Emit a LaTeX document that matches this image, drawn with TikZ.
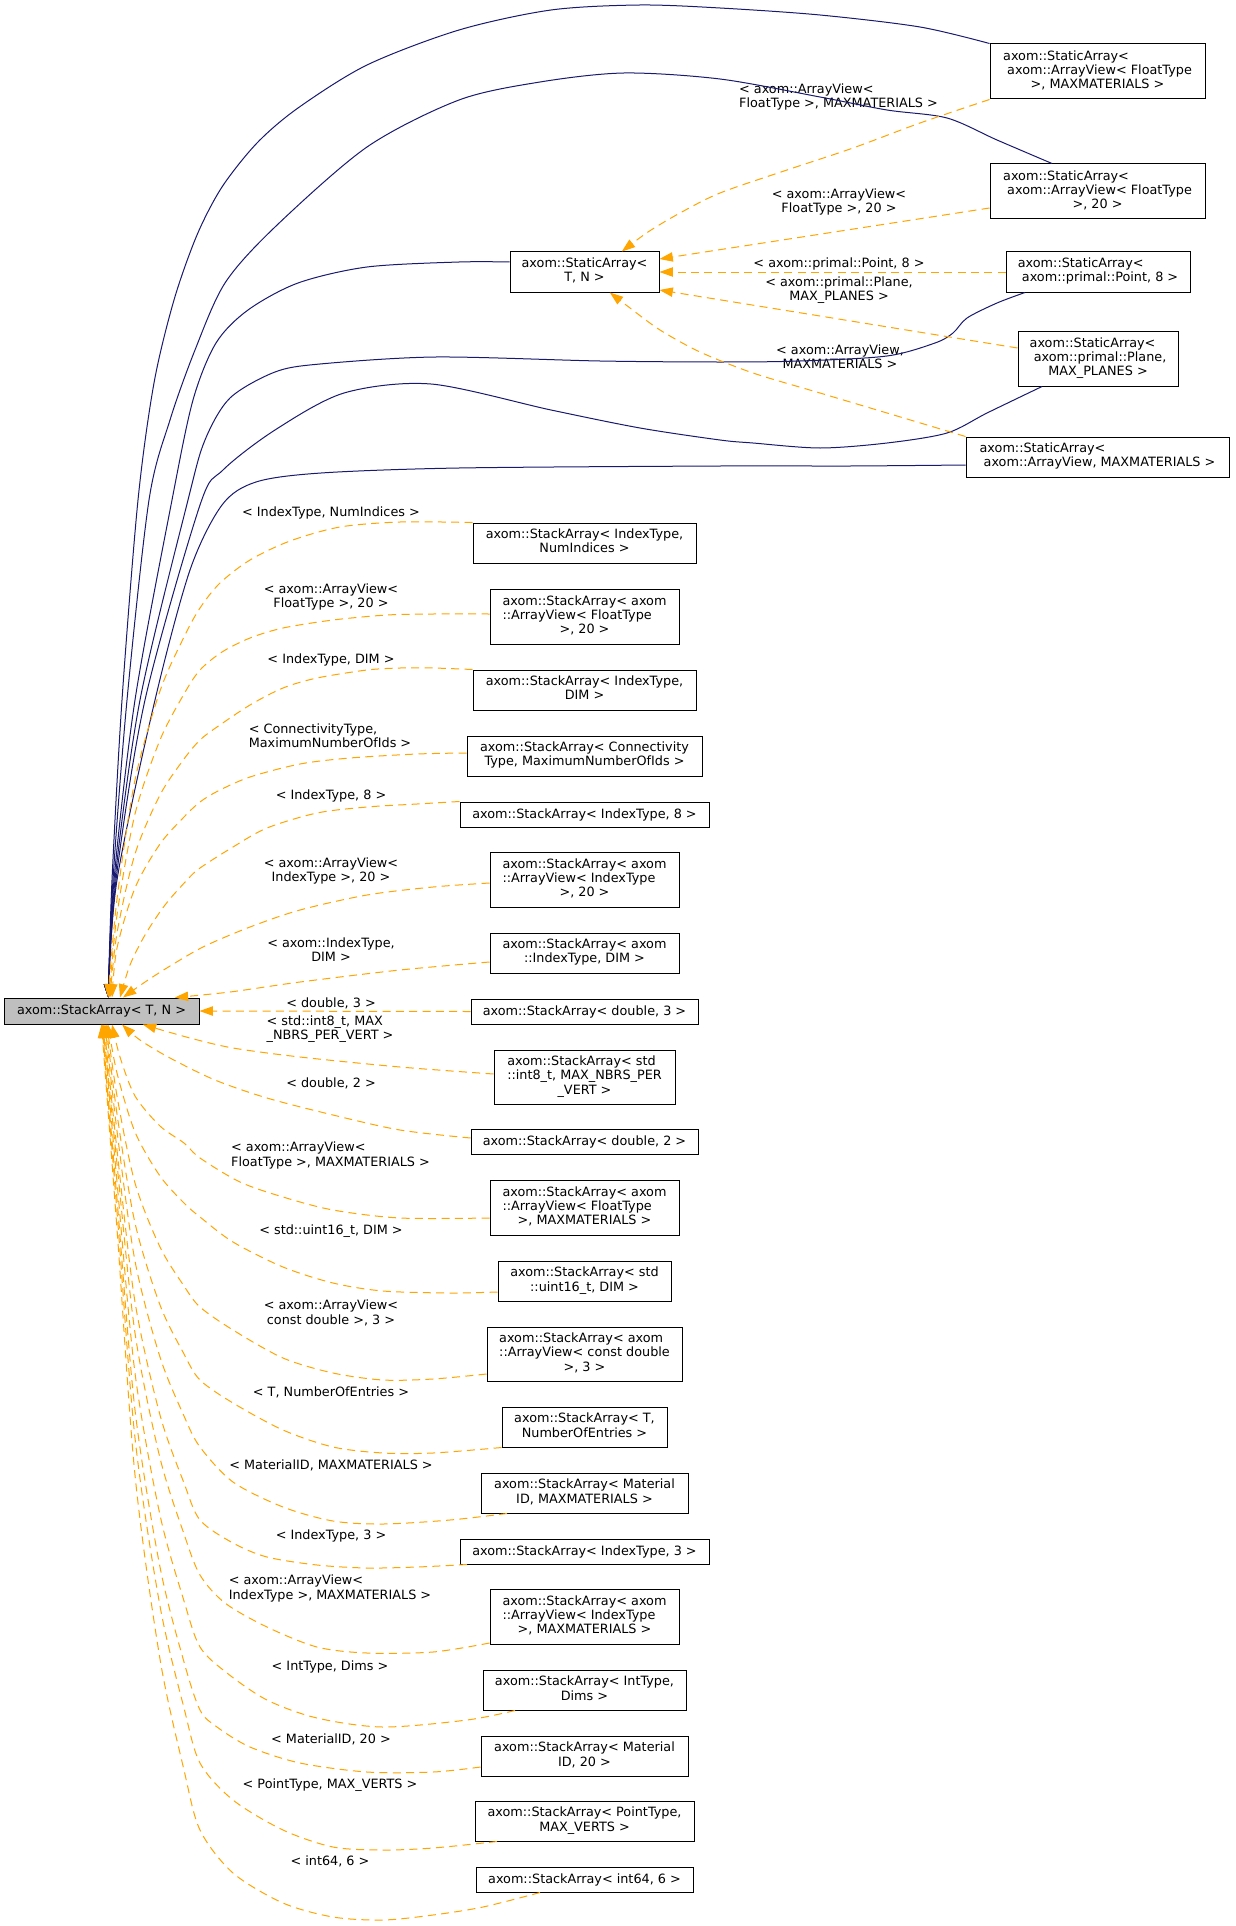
\documentclass[tikz,border=0pt]{standalone}
\usepackage{fontspec}
\setmainfont{DejaVu Sans}
\usetikzlibrary{arrows.meta}
\definecolor{navyc}{HTML}{191970}
\definecolor{orangec}{HTML}{FFA500}
\definecolor{mainfill}{HTML}{BFBFBF}
\newcommand\LL[1]{\begin{tabular}{@{}l@{}}#1\end{tabular}}
\newcommand\CL[1]{\multicolumn{1}{@{}c@{}}{#1}}
\begin{document}
\begin{tikzpicture}[x=0.75pt,y=-0.75pt,
  every node/.style={font=\fontsize{9.6}{10.7}\selectfont, inner sep=0pt},
  cls/.style={draw=black, line width=0.75pt, fill=white, inner sep=0pt},
  wh/.style 2 args={minimum width=#1pt, minimum height=#2pt},
  mainc/.style={cls, fill=mainfill},
  lab/.style={inner sep=0pt, text=black},
  tipx/.style={-{Triangle[length=10pt,width=7pt]}},
  nav/.style={draw=navyc, line width=0.75pt, tipx},
  oed/.style={draw=orangec, line width=0.75pt, dash pattern=on 6pt off 4pt, tipx},
]
\fill[white] (0,0) rectangle (1235,1926);
\useasboundingbox (0,0) rectangle (1235,1926);

% ---- nodes ----
\node[mainc, wh={146.25}{19.5}] (m) at (101.5,1011) {axom::StackArray< T, N >};
\node[cls, wh={111.75}{30}] (stn) at (584.5,272) {\LL{axom::StaticArray<\\\CL{T, N >}}};
\node[cls, wh={161.25}{41.25}] (sa1) at (1097.5,71.5) {\LL{axom::StaticArray<\\\ axom::ArrayView< FloatType\\\CL{>, MAXMATERIALS >}}};
\node[cls, wh={161.25}{41.25}] (sa2) at (1097.5,191.5) {\LL{axom::StaticArray<\\\ axom::ArrayView< FloatType\\\CL{>, 20 >}}};
\node[cls, wh={138}{30}] (sa3) at (1098,272) {\LL{axom::StaticArray<\\\CL{\ axom::primal::Point, 8 >}}};
\node[cls, wh={120}{41.25}] (sa4) at (1098,358.5) {\LL{axom::StaticArray<\\\ axom::primal::Plane,\\\CL{MAX\_PLANES >}}};
\node[cls, wh={197.25}{30}] (sa5) at (1097.5,457) {\LL{axom::StaticArray<\\\CL{\ axom::ArrayView, MAXMATERIALS >}}};

\node[cls, wh={167.25}{30}] (k1) at (584.5,543) {\LL{axom::StackArray< IndexType,\\\CL{NumIndices >}}};
\node[cls, wh={141.75}{41.25}] (k2) at (584.5,616.5) {\LL{axom::StackArray< axom\\::ArrayView< FloatType\\\CL{>, 20 >}}};
\node[cls, wh={167.25}{30}] (k3) at (584.5,690) {\LL{axom::StackArray< IndexType,\\\CL{DIM >}}};
\node[cls, wh={176.25}{30}] (k4) at (584.5,756) {\LL{axom::StackArray< Connectivity\\\CL{Type, MaximumNumberOfIds >}}};
\node[cls, wh={186.75}{18.75}] (k5) at (584.5,814.5) {axom::StackArray< IndexType, 8 >};
\node[cls, wh={141.75}{41.25}] (k6) at (584.5,879.5) {\LL{axom::StackArray< axom\\::ArrayView< IndexType\\\CL{>, 20 >}}};
\node[cls, wh={141.75}{30}] (k7) at (584.5,953) {\LL{axom::StackArray< axom\\\CL{::IndexType, DIM >}}};
\node[cls, wh={170.25}{18.75}] (k8) at (584.5,1011.5) {axom::StackArray< double, 3 >};
\node[cls, wh={135.75}{40.5}] (k9) at (584.5,1077) {\LL{axom::StackArray< std\\::int8\_t, MAX\_NBRS\_PER\\\CL{\_VERT >}}};
\node[cls, wh={170.25}{18.75}] (k10) at (584.5,1142) {axom::StackArray< double, 2 >};
\node[cls, wh={141.75}{41.25}] (k11) at (584.5,1207.5) {\LL{axom::StackArray< axom\\::ArrayView< FloatType\\\CL{>, MAXMATERIALS >}}};
\node[cls, wh={129.75}{30}] (k12) at (584.5,1281) {\LL{axom::StackArray< std\\\CL{::uint16\_t, DIM >}}};
\node[cls, wh={146.25}{40.5}] (k13) at (584.5,1354) {\LL{axom::StackArray< axom\\::ArrayView< const double\\\CL{>, 3 >}}};
\node[cls, wh={123.75}{30}] (k14) at (584.5,1427) {\LL{axom::StackArray< T,\\\CL{NumberOfEntries >}}};
\node[cls, wh={155.25}{30}] (k15) at (584.5,1493) {\LL{axom::StackArray< Material\\\CL{ID, MAXMATERIALS >}}};
\node[cls, wh={186.75}{18.75}] (k16) at (584.5,1551.5) {axom::StackArray< IndexType, 3 >};
\node[cls, wh={141.75}{41.25}] (k17) at (584.5,1616.5) {\LL{axom::StackArray< axom\\::ArrayView< IndexType\\\CL{>, MAXMATERIALS >}}};
\node[cls, wh={152.25}{30}] (k18) at (584.5,1690) {\LL{axom::StackArray< IntType,\\\CL{Dims >}}};
\node[cls, wh={155.25}{30}] (k19) at (584.5,1756) {\LL{axom::StackArray< Material\\\CL{ID, 20 >}}};
\node[cls, wh={164.25}{30}] (k20) at (584.5,1821) {\LL{axom::StackArray< PointType,\\\CL{MAX\_VERTS >}}};
\node[cls, wh={162.75}{18.75}] (k21) at (584.5,1879.5) {axom::StackArray< int64, 6 >};

% ---- labels ----
\node[lab] (la1) at (838.5,97.5) {\LL{< axom::ArrayView<\\\CL{FloatType >, MAXMATERIALS >}}};
\node[lab] (la2) at (839,202.5) {\LL{< axom::ArrayView<\\\CL{FloatType >, 20 >}}};
\node[lab] (la3) at (839,264) {< axom::primal::Point, 8 >};
\node[lab] (la4) at (839,290.5) {\LL{< axom::primal::Plane,\\\CL{MAX\_PLANES >}}};
\node[lab] (la5) at (840,358.5) {\LL{< axom::ArrayView,\\\CL{MAXMATERIALS >}}};

\node[lab] (l1) at (331,513) {< IndexType, NumIndices >};
\node[lab] (l2) at (331,598) {\LL{< axom::ArrayView<\\\CL{FloatType >, 20 >}}};
\node[lab] (l3) at (331,660) {< IndexType, DIM >};
\node[lab] (l4) at (330,738) {\LL{< ConnectivityType,\\\CL{MaximumNumberOfIds >}}};
\node[lab] (l5) at (331,796) {< IndexType, 8 >};
\node[lab] (l6) at (331,872) {\LL{< axom::ArrayView<\\\CL{IndexType >, 20 >}}};
\node[lab] (l7) at (331,952) {\LL{< axom::IndexType,\\\CL{DIM >}}};
\node[lab] (l8) at (331,1003) {< double, 3 >};
\node[lab] (l9) at (330,1030) {\LL{< std::int8\_t, MAX\\\CL{\_NBRS\_PER\_VERT >}}};
\node[lab] (l10) at (331,1083) {< double, 2 >};
\node[lab] (l11) at (330.5,1156) {\LL{< axom::ArrayView<\\\CL{FloatType >, MAXMATERIALS >}}};
\node[lab] (l12) at (331,1231) {< std::uint16\_t, DIM >};
\node[lab] (l13) at (331,1314) {\LL{< axom::ArrayView<\\\CL{const double >, 3 >}}};
\node[lab] (l14) at (331,1392) {< T, NumberOfEntries >};
\node[lab] (l15) at (331,1465) {< MaterialID, MAXMATERIALS >};
\node[lab] (l16) at (331,1536) {< IndexType, 3 >};
\node[lab] (l17) at (330,1589) {\LL{< axom::ArrayView<\\\CL{IndexType >, MAXMATERIALS >}}};
\node[lab] (l18) at (330,1667) {< IntType, Dims >};
\node[lab] (l19) at (331,1739) {< MaterialID, 20 >};
\node[lab] (l20) at (330,1785) {< PointType, MAX\_VERTS >};
\node[lab] (l21) at (330,1861) {< int64, 6 >};

% ---- navy inheritance edges ----
\draw[nav] plot[smooth] coordinates {(sa1.north west) (920,27) (820,15) (720,8) (640,5) (551,10) (459,30) (367,65) (298,108) (257,143) (222,187) (197,235) (174,300) (154,383) (138,500) (122,700) (112,880) ([xshift=5pt]m.north)};
\draw[nav] plot[smooth] coordinates {(sa2.north -| 1052,0) (997,140) (947,118) (887,110) (820,97) (720,79) (624,73) (540,82) (459,100) (367,147) (275,227) (225,283) (195,350) (170,420) (149,500) (127,700) (113,880) ([xshift=5pt]m.north)};
\draw[nav] plot[smooth] coordinates {([yshift=7.5pt]stn.west) (459,262) (367,267) (298,283) (248,310) (216,343) (193,400) (172,500) (135,700) (114,880) ([xshift=5pt]m.north)};
\draw[nav] plot[smooth] coordinates {(sa3.south -| 1025,0) (997,303) (967,318) (953,333) (935,343) (887,356) (800,361) (720,362) (600,361) (436,357) (320,364) (275,372) (230,398) (205,440) (188,500) (140,700) (115,880) ([xshift=5pt]m.north)};
\draw[nav] plot[smooth] coordinates {(sa4.south -| 1042,0) (987,413) (947,433) (887,443) (820,448) (753,443) (720,440) (640,428) (551,410) (431,384) (344,393) (275,430) (223,470) (200,505) (145,700) (116,880) ([xshift=5pt]m.north)};
\draw[nav] plot[smooth] coordinates {(sa5.west |- 0,465) (850,466) (720,466) (459,468) (321,473) (256,482) (222,505) (190,570) (155,700) (117,880) ([xshift=5pt]m.north)};

% ---- orange edges to StaticArray<T,N> ----
\draw[oed] plot[smooth] coordinates {(sa1.south west) (920,123) (853,148) (787,170) (720,193) (680,213) (648,232) ([xshift=28pt]stn.north)};
\draw[oed] (sa2.west |- 0,208) -- ([yshift=9.75pt]stn.east);
\draw[oed] (sa3.west) -- (stn.east);
\draw[oed] (sa4.west |- 0,348) -- ([yshift=-13.5pt]stn.east);
\draw[oed] plot[smooth] coordinates {(sa5.north west) (887,413) (820,393) (753,373) (700,352) (660,330) (630,308) ([xshift=19pt]stn.south)};

% ---- orange edges to StackArray<T,N> (above) ----
\draw[oed] plot[smooth] coordinates {(k1.north west) (400,522) (340,527) (290,541) (250,560) (220,583) (200,608) (184,637) (160,691) (135,780) (117,899) ([xshift=4.9pt]m.north)};
\draw[oed] plot[smooth] coordinates {(k2.west |- 0,614) (433,614) (387,615) (333,620) (283,628) (250,638) (222,652) (200,670) (184,694) (160,740) (135,814) (117,915) ([xshift=5.6pt]m.north)};
\draw[oed] plot[smooth] coordinates {(k3.north west) (433,668) (400,668) (367,670) (317,678) (283,688) (250,705) (217,727) (200,740) (184,759) (160,795) (135,854) (117,933) ([xshift=6.4pt]m.north)};
\draw[oed] plot[smooth] coordinates {(k4.west |- 0,753) (417,754) (350,758) (300,764) (250,777) (218,791) (200,802) (184,817) (160,844) (135,888) (117,948) ([xshift=7.9pt]m.north)};
\draw[oed] plot[smooth] coordinates {(k5.north west) (417,804) (367,807) (317,813) (267,828) (233,847) (200,868) (187,880) (165,905) (145,935) (130,965) ([xshift=13.9pt]m.north)};
\draw[oed] plot[smooth] coordinates {(k6.west |- 0,883) (433,887) (367,895) (300,910) (250,927) (205,946) (175,963) (148,980) ([xshift=16.1pt]m.north)};
\draw[oed] plot[smooth] coordinates {(k7.west |- 0,962) (400,970) (300,982) (230,992) ([xshift=55pt]m.north)};
\draw[oed] (k8.west) -- (m.east);

% ---- orange edges to StackArray<T,N> (below) ----
\draw[oed] plot[smooth] coordinates {(k9.west |- 0,1074) (400,1067) (300,1057) (233,1048) (190,1038) ([xshift=31pt]m.south)};
\draw[oed] plot[smooth] coordinates {(k10.west |- 0,1138) (400,1130) (333,1115) (267,1098) (215,1080) (170,1058) (140,1040) ([xshift=15.4pt]m.south)};
\draw[oed] plot[smooth] coordinates {(k11.west |- 0,1218) (400,1218) (333,1210) (283,1197) (240,1182) (200,1158) (184,1143) (160,1126) (135,1096) (120,1057) ([xshift=7.9pt]m.south)};
\draw[oed] plot[smooth] coordinates {(k12.west |- 0,1292) (450,1293) (383,1291) (333,1283) (283,1267) (233,1242) (200,1217) (184,1203) (160,1176) (135,1132) (117,1073) ([xshift=4.9pt]m.south)};
\draw[oed] plot[smooth] coordinates {(k13.west |- 0,1374) (433,1379) (383,1380) (333,1373) (283,1358) (233,1330) (200,1307) (184,1286) (160,1247) (135,1183) (117,1096) ([xshift=4.1pt]m.south)};
\draw[oed] plot[smooth] coordinates {(k14.south west) (433,1453) (383,1453) (333,1447) (283,1430) (233,1403) (200,1380) (184,1354) (160,1305) (135,1223) (117,1114) ([xshift=3.4pt]m.south)};
\draw[oed] plot[smooth] coordinates {(k15.south -| 507,0) (450,1520) (383,1524) (333,1521) (283,1507) (233,1482) (200,1447) (184,1416) (160,1357) (135,1261) (117,1131) ([xshift=2.6pt]m.south)};
\draw[oed] plot[smooth] coordinates {(k16.south -| 467,0) (417,1567) (367,1568) (317,1565) (267,1557) (233,1543) (200,1520) (184,1483) (160,1415) (135,1302) (117,1150) ([xshift=1.9pt]m.south)};
\draw[oed] plot[smooth] coordinates {(k17.west |- 0,1643) (433,1652) (367,1653) (317,1647) (267,1627) (225,1603) (200,1575) (184,1534) (160,1458) (135,1333) (117,1164) ([xshift=1.1pt]m.south)};
\draw[oed] plot[smooth] coordinates {(k18.south -| 515,0) (467,1720) (383,1727) (317,1718) (267,1700) (227,1673) (200,1647) (184,1601) (160,1515) (135,1373) (117,1182) ([xshift=1.1pt]m.south)};
\draw[oed] plot[smooth] coordinates {(k19.west |- 0,1767) (433,1772) (367,1772) (300,1763) (250,1747) (217,1727) (200,1710) (184,1662) (160,1567) (135,1410) (117,1199) ([xshift=0.4pt]m.south)};
\draw[oed] plot[smooth] coordinates {(k20.south -| 497,0) (433,1848) (383,1850) (333,1847) (283,1830) (233,1800) (200,1763) (184,1708) (160,1606) (135,1438) (117,1212) ([xshift=0.4pt]m.south)};
\draw[oed] plot[smooth] coordinates {(k21.south -| 540,0) (483,1907) (433,1915) (383,1920) (333,1917) (283,1903) (233,1873) (200,1830) (184,1770) (160,1659) (135,1475) (117,1229) (m.south)};
\end{tikzpicture}
\end{document}
